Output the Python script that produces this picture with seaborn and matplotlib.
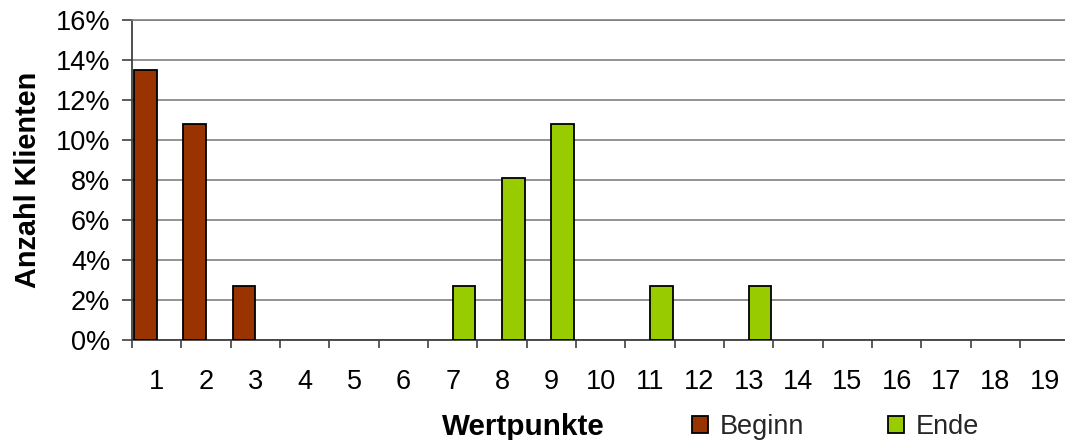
import matplotlib
matplotlib.use("Agg")
import numpy as np
import pandas as pd
import seaborn as sns
import matplotlib.pyplot as plt
from matplotlib.ticker import PercentFormatter, MultipleLocator, FixedLocator
from matplotlib.patches import Patch

# Share of clients per score value (percent), at start and at end
wertpunkte = [str(i) for i in range(1, 20)]
beginn = [13.5, 10.8, 2.7, 0, 0, 0, 0, 0, 0, 0, 0, 0, 0, 0, 0, 0, 0, 0, 0]
ende = [0, 0, 0, 0, 0, 0, 2.7, 8.1, 10.8, 0, 2.7, 0, 2.7, 0, 0, 0, 0, 0, 0]
series = ["Beginn", "Ende"]
colors = {"Beginn": "#993300", "Ende": "#99CC00"}

df = pd.DataFrame({
    "Wertpunkte": wertpunkte * 2,
    "Anteil": beginn + ende,
    "Zeitpunkt": [series[0]] * len(wertpunkte) + [series[1]] * len(wertpunkte),
})

sns.set_theme(style="white")
plt.rcParams["font.family"] = ["Liberation Sans", "DejaVu Sans"]

W, H = 1065, 440
fig = plt.figure(figsize=(W / 100, H / 100), dpi=100)
ax = fig.add_axes([132 / W, (H - 340) / H, 937.5 / W, 320 / H])

sns.barplot(
    data=df, x="Wertpunkte", y="Anteil", hue="Zeitpunkt",
    order=wertpunkte, hue_order=series, palette=colors,
    width=0.92, saturation=1, edgecolor="black", linewidth=1.3,
    legend=False, ax=ax, zorder=3,
)
# empty categories carry no visible bar
for p in ax.patches:
    if p.get_height() == 0:
        p.set_visible(False)

ax.set_xlim(-0.5, len(wertpunkte) - 0.5)
ax.set_ylim(0, 16)
ax.yaxis.set_major_locator(MultipleLocator(2))
ax.yaxis.set_major_formatter(PercentFormatter(decimals=0))

ax.grid(axis="y", color="#808080", linewidth=1.2)
ax.grid(axis="x", visible=False)
ax.set_axisbelow(True)

for side in ["left", "bottom"]:
    ax.spines[side].set_color("#404040")
    ax.spines[side].set_linewidth(1.3)
ax.spines["top"].set_color("#808080")
ax.spines["top"].set_linewidth(1.2)
ax.spines["right"].set_visible(False)

ax.tick_params(axis="y", left=True, direction="out", length=7, width=1.2,
               color="#404040", pad=8.5, labelsize=19.5, labelcolor="black")
ax.xaxis.set_minor_locator(FixedLocator(np.arange(-0.5, len(wertpunkte), 1)))
ax.tick_params(axis="x", which="major", bottom=False, length=0, pad=21,
               labelsize=19.5, labelcolor="black")
ax.tick_params(axis="x", which="minor", bottom=True, direction="out",
               length=5.5, width=1.2, color="#404040")

ax.set_ylabel("Anzahl Klienten", fontsize=20.8, fontweight="bold", color="black")
ax.yaxis.set_label_coords((28 - 132) / 937.5, 0.5)
ax.yaxis.label.set_va("center")

ax.set_xlabel("Wertpunkte", fontsize=21.3, fontweight="bold", color="black")
ax.xaxis.set_label_coords((523 - 132) / 937.5, (340 - 435) / 320)
ax.xaxis.label.set_va("baseline")

handles = [Patch(facecolor=colors[s], edgecolor="black", linewidth=1.3) for s in series]
fig.legend(handles, series, loc="center left",
           bbox_to_anchor=(692 / W, (H - 427) / H), ncol=2, frameon=False,
           fontsize=19.5, handlelength=0.59, handleheight=0.59,
           handletextpad=0.44, columnspacing=3.1, borderpad=0, borderaxespad=0)

fig.savefig("out.png", dpi=100)
